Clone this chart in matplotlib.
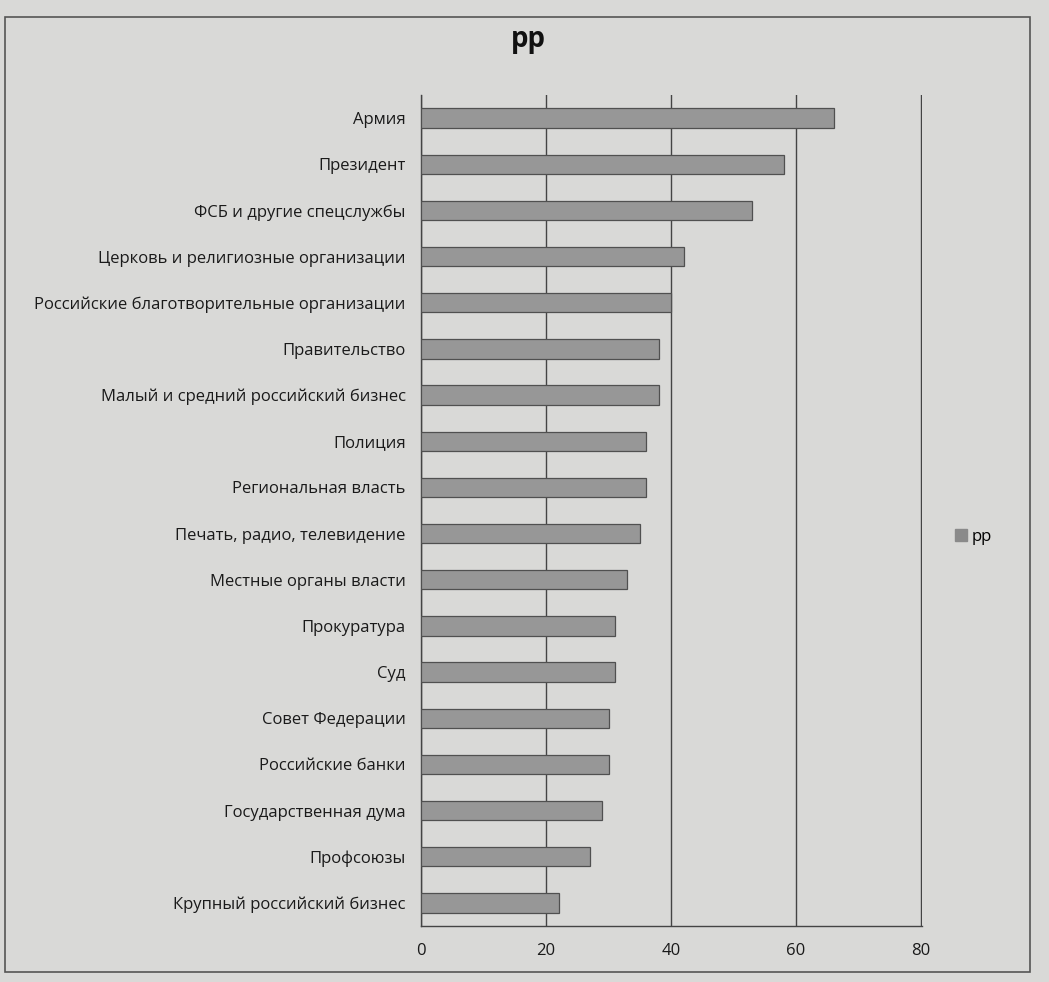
import matplotlib
matplotlib.use("Agg")
import matplotlib.pyplot as plt
from matplotlib.patches import Rectangle, Patch

categories = [
    "Армия",
    "Президент",
    "ФСБ и другие спецслужбы",
    "Церковь и религиозные организации",
    "Российские благотворительные организации",
    "Правительство",
    "Малый и средний российский бизнес",
    "Полиция",
    "Региональная власть",
    "Печать, радио, телевидение",
    "Местные органы власти",
    "Прокуратура",
    "Суд",
    "Совет Федерации",
    "Российские банки",
    "Государственная дума",
    "Профсоюзы",
    "Крупный российский бизнес",
]
values = [66, 58, 53, 42, 40, 38, 38, 36, 36, 35, 33, 31, 31, 30, 30, 29, 27, 22]
series_name = "pp"
x_ticks = [0, 20, 40, 60, 80]

plt.rcParams['font.family'] = ['Open Sans', 'DejaVu Sans']

bg = '#d9d9d7'
fig = plt.figure(figsize=(10.49, 9.82), dpi=100, facecolor=bg)
ax = fig.add_axes([421/1049, 1-926/982, (922-421)/1049, (926-95)/982])
ax.set_facecolor(bg)

ypos = list(range(len(categories)))
ax.barh(ypos, values, height=0.42, color='#979797', edgecolor='#505050', linewidth=0.9,
        label=series_name, zorder=3)
ax.set_yticks(ypos)
ax.set_yticklabels(categories, fontsize=12, color='#1a1a1a')
ax.set_ylim(len(categories) - 0.5, -0.5)
ax.set_xlim(0, 80.15)
ax.set_xticks(x_ticks)
ax.set_xticklabels([str(t) for t in x_ticks], fontsize=12, color='#1a1a1a')
ax.tick_params(axis='both', length=0)
ax.tick_params(axis='y', pad=11)
ax.tick_params(axis='x', pad=12)
ax.xaxis.grid(True, color='#444444', linewidth=1.0, zorder=0)
ax.set_axisbelow(True)
for s in ['top', 'right']:
    ax.spines[s].set_visible(False)
for s in ['left', 'bottom']:
    ax.spines[s].set_color('#444444')
    ax.spines[s].set_linewidth(1.0)

fig.text(528/1049, 1-40/982, "pp", ha='center', va='center', fontsize=20,
         fontweight='bold', color='#111111')

leg = fig.legend(handles=[Patch(facecolor='#8a8a8a', edgecolor='#8a8a8a')],
                 labels=[series_name], loc='center left',
                 bbox_to_anchor=(940/1049, 1-537/982), frameon=False, fontsize=12,
                 handlelength=0.7, handleheight=0.7, handletextpad=0.3)

fig.patches.append(Rectangle((5/1049, 1-972/982), 1025/1049, 955/982,
                             transform=fig.transFigure, fill=False,
                             edgecolor='#555555', linewidth=1.2))

fig.savefig("out.png", dpi=100, facecolor=bg)
